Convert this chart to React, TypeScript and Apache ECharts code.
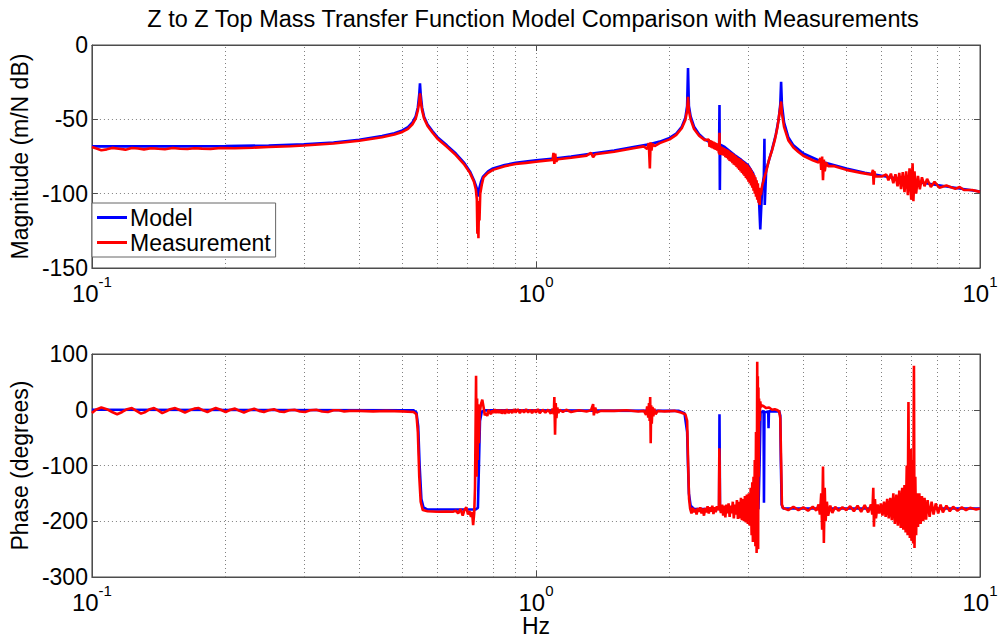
import React, { useEffect, useRef } from "react";
import * as echarts from "echarts";

const FONT = "'Liberation Sans', Arial, Helvetica, sans-serif";

const titleText = "Z to Z Top Mass Transfer Function Model Comparison with Measurements";
const legendNames = ["Model", "Measurement"];
const magTicks = { min: -150, max: 0, interval: 50 };
const phaseTicks = { min: -300, max: 100, interval: 100 };
const minorGridFreqs = [0.2, 0.3, 0.4, 0.5, 0.6, 0.7, 0.8, 0.9, 2, 3, 4, 5, 6, 7, 8, 9];

const modelMag: [number, number][] = [
  [0.1, -68.2], [0.15, -68.2], [0.2, -68], [0.25, -67.6], [0.3, -66.8], [0.35, -65.6], [0.4, -63.8],
  [0.45, -61.2], [0.48, -59.3], [0.5, -57.5], [0.515, -55.2], [0.527, -52], [0.536, -48], [0.542, -42],
  [0.546, -33], [0.548, -25.8], [0.55, -33], [0.554, -42], [0.56, -48.5], [0.57, -53.5], [0.585, -58],
  [0.6, -62], [0.63, -67.5], [0.66, -73], [0.69, -79.5], [0.71, -85], [0.725, -91], [0.735, -96],
  [0.741, -102], [0.746, -96], [0.752, -92], [0.76, -88.5], [0.78, -85], [0.8, -83], [0.85, -80.8],
  [0.9, -79.2], [1.0, -77.5], [1.1, -76.3], [1.2, -75], [1.34, -73], [1.5, -71], [1.67, -68.5],
  [1.8, -66.8], [1.9, -65], [2.0, -62.5], [2.07, -59.5], [2.13, -55], [2.17, -49], [2.19, -41],
  [2.2, -15.5], [2.21, -41], [2.23, -48], [2.27, -55], [2.33, -60], [2.4, -63.5], [2.5, -66.5],
  [2.585, -68.5], [2.59, -40.3], [2.595, -97.5], [2.6, -67], [2.66, -68.6], [2.8, -74], [2.9, -77.3],
  [3.0, -80.7], [3.08, -86], [3.14, -94], [3.18, -105], [3.2, -124], [3.23, -97], [3.26, -88],
  [3.27, -63], [3.275, -107.6], [3.3, -84], [3.4, -70.5], [3.47, -60], [3.52, -50], [3.55, -40],
  [3.565, -24.7], [3.58, -40], [3.62, -52], [3.7, -62], [3.8, -67.5], [4.0, -73], [4.4, -78.5],
  [5.0, -83], [5.5, -86], [6.0, -88], [7.0, -91.5], [8.0, -94.2], [9.0, -96.5], [10, -98.5],
];

const measMag: [number, number][] = [
  [0.1, -68.6], [0.102, -69.5], [0.105, -70.8], [0.108, -70.2], [0.111, -69.2], [0.115, -69.8],
  [0.119, -70.4], [0.123, -69.3], [0.127, -69.6], [0.131, -70.2], [0.136, -69.4], [0.141, -69.8],
  [0.146, -70.1], [0.152, -69.3], [0.158, -69.8], [0.164, -70], [0.17, -69.4], [0.177, -69.7],
  [0.185, -69.9], [0.195, -69.3], [0.21, -69.5], [0.23, -69.1], [0.25, -68.6], [0.28, -68.1],
  [0.3, -67.6], [0.35, -66.3], [0.4, -64.4], [0.45, -62], [0.48, -60.2], [0.5, -58.5], [0.515, -56.4],
  [0.527, -53.3], [0.536, -49.5], [0.542, -44], [0.546, -38], [0.548, -32.5], [0.55, -37.5],
  [0.554, -44], [0.56, -49.5], [0.57, -54.5], [0.585, -59], [0.6, -63], [0.63, -68.5], [0.66, -74],
  [0.69, -80.5], [0.71, -86], [0.725, -92], [0.732, -97], [0.736, -104], [0.738, -127], [0.74, -105],
  [0.742, -130], [0.744, -108], [0.746, -118], [0.749, -100], [0.755, -94], [0.762, -89], [0.78, -86],
  [0.8, -84], [0.85, -81.5], [0.9, -80], [0.95, -79.3], [1.0, -78.5], [1.05, -77.8], [1.09, -77.4],
  [1.095, -72.5], [1.1, -80], [1.105, -73], [1.11, -78.5], [1.12, -76.8], [1.2, -75.8], [1.3, -74.4],
  [1.33, -72.5], [1.345, -75.5], [1.36, -73.5], [1.5, -71.8], [1.67, -69.3], [1.75, -68.2], [1.78, -70],
  [1.795, -66], [1.805, -83], [1.812, -65.5], [1.82, -71], [1.83, -66.5], [1.85, -68], [1.9, -66],
  [2.0, -63.5], [2.07, -60.5], [2.13, -56], [2.17, -50.5], [2.19, -44], [2.2, -34.8], [2.21, -44],
  [2.23, -50], [2.27, -56.5], [2.33, -61], [2.4, -64], [2.45, -63.5], [2.46, -68.5], [2.47, -64],
  [2.48, -69], [2.49, -64.5], [2.5, -69.5], [2.51, -65], [2.52, -70], [2.53, -65.5], [2.54, -70.5],
  [2.55, -66], [2.56, -71], [2.57, -67], [2.58, -72], [2.585, -73], [2.59, -59], [2.595, -74],
  [2.6, -68], [2.61, -73.5], [2.62, -68.5], [2.63, -74], [2.64, -69], [2.65, -74.5], [2.66, -69.5],
  [2.67, -75.5], [2.68, -70], [2.69, -76], [2.7, -70.5], [2.71, -77], [2.72, -71], [2.73, -78],
  [2.74, -72], [2.75, -78.5], [2.76, -72.5], [2.77, -79.5], [2.78, -73], [2.79, -80.5], [2.8, -74],
  [2.81, -81], [2.82, -74.5], [2.83, -82], [2.84, -75.5], [2.85, -83], [2.86, -76], [2.87, -84],
  [2.88, -76.5], [2.89, -85], [2.9, -77], [2.91, -86], [2.92, -78], [2.93, -87], [2.94, -78.5],
  [2.95, -88], [2.96, -79.5], [2.97, -89.5], [2.98, -80], [2.99, -90.5], [3.0, -81], [3.01, -92],
  [3.02, -82], [3.03, -93], [3.04, -83], [3.05, -94.5], [3.06, -84.5], [3.07, -96], [3.08, -86],
  [3.09, -98], [3.1, -87.5], [3.11, -100], [3.12, -89], [3.13, -102], [3.14, -91], [3.15, -104],
  [3.16, -93], [3.17, -106], [3.18, -96], [3.19, -107.6], [3.2, -97], [3.21, -101], [3.23, -95],
  [3.25, -92], [3.27, -89], [3.3, -85], [3.35, -77], [3.4, -71], [3.45, -64], [3.5, -55], [3.53, -47],
  [3.565, -38], [3.58, -46], [3.62, -55], [3.7, -64], [3.8, -69], [3.9, -72], [4.0, -74.5], [4.2, -77.5],
  [4.33, -79], [4.37, -76], [4.39, -84], [4.41, -75], [4.43, -91], [4.45, -77], [4.47, -85], [4.5, -79],
  [4.55, -81.5], [4.7, -81.5], [5.0, -84], [5.4, -86], [5.7, -87.2], [5.74, -84], [5.76, -94],
  [5.78, -85], [5.82, -88.5], [6.0, -88.5], [6.15, -87], [6.22, -91], [6.3, -86.5], [6.38, -93],
  [6.45, -87], [6.52, -95], [6.58, -86], [6.64, -97], [6.7, -85.5], [6.76, -99], [6.82, -85],
  [6.88, -101], [6.94, -83], [7.0, -104], [7.05, -79.6], [7.08, -105], [7.12, -85], [7.18, -100],
  [7.25, -88], [7.32, -97], [7.4, -89], [7.5, -95], [7.6, -90], [7.75, -95.5], [7.9, -92], [8.1, -96],
  [8.4, -94.5], [8.8, -96.8], [9.0, -95.5], [9.2, -97.5], [9.6, -97.5], [10, -98.8],
];

const modelPhase: [number, number][] = [
  [0.1, 0], [0.53, -1], [0.538, -5], [0.543, -30], [0.547, -100], [0.552, -160], [0.558, -175],
  [0.57, -179], [0.73, -179], [0.74, -176], [0.744, -100], [0.748, -20], [0.755, -3], [0.77, -1],
  [2.1, -2], [2.16, -6], [2.19, -40], [2.2, -100], [2.21, -150], [2.23, -172], [2.27, -178],
  [2.585, -178], [2.59, -8], [2.597, -178], [3.17, -178], [3.19, -90], [3.205, -5], [3.255, -2],
  [3.262, -167], [3.27, -5], [3.335, -3], [3.34, -33], [3.347, -3], [3.53, -3], [3.55, -10],
  [3.56, -90], [3.575, -170], [3.6, -177], [10, -177],
];

const measPhase: [number, number][] = [
  [0.1, -6], [0.102, 0], [0.105, 4], [0.108, 1], [0.111, -4], [0.114, -8], [0.117, -4], [0.12, 1],
  [0.123, 3], [0.126, -2], [0.129, -7], [0.132, -4], [0.135, 1], [0.138, 3], [0.141, -1], [0.144, -6],
  [0.147, -3], [0.15, 1], [0.154, 3], [0.158, -1], [0.162, -5], [0.166, -1], [0.17, 2], [0.174, 3],
  [0.178, -1], [0.182, -4], [0.186, 0], [0.19, 3], [0.195, 0], [0.2, -4], [0.205, 0], [0.21, 2],
  [0.215, -2], [0.22, -5], [0.226, -1], [0.232, 2], [0.238, -2], [0.244, -4], [0.25, -1], [0.257, 1],
  [0.264, -3], [0.271, -4], [0.278, -1], [0.286, 0], [0.294, -3], [0.302, -4], [0.31, -1], [0.32, 0],
  [0.33, -3], [0.34, -4], [0.35, -1], [0.36, -1], [0.37, -3], [0.38, -2], [0.4, -2], [0.43, -3],
  [0.46, -2], [0.5, -3], [0.53, -4], [0.538, -8], [0.542, -40], [0.546, -120], [0.55, -165],
  [0.556, -180], [0.57, -182], [0.6, -183], [0.63, -182.5], [0.65, -183], [0.66, -181], [0.668, -186],
  [0.676, -178], [0.684, -190], [0.69, -180], [0.697, -175], [0.703, -188], [0.708, -182],
  [0.714, -192], [0.718, -183], [0.722, -207], [0.726, -185], [0.729, -140], [0.731, -40], [0.733, 61],
  [0.735, -120], [0.737, 20], [0.739, -90], [0.741, 10], [0.744, -60], [0.747, -5], [0.752, 10],
  [0.757, 18], [0.762, 5], [0.767, -10], [0.772, -6], [0.777, -11], [0.782, 0], [0.787, -5],
  [0.792, -8], [0.797, -1], [0.802, -6], [0.808, 1], [0.814, -6], [0.82, 0], [0.826, -6], [0.832, 0],
  [0.838, -7], [0.845, 0], [0.852, -7], [0.86, 1], [0.868, -6], [0.876, 0], [0.884, -6], [0.892, 1],
  [0.9, -5], [0.91, 1], [0.92, -6], [0.93, 0], [0.94, -5], [0.95, 1], [0.96, -5], [0.97, 0],
  [0.98, -6], [0.99, 0], [1.0, -5], [1.01, 1], [1.02, -6], [1.035, 0], [1.05, -5], [1.065, 0],
  [1.08, -7], [1.09, 2], [1.097, -8], [1.1, 23], [1.104, -45], [1.108, 12], [1.112, -15], [1.117, 4],
  [1.123, -6], [1.13, 0], [1.15, -4], [1.17, 0], [1.2, -4], [1.25, -1], [1.3, -3], [1.33, -1],
  [1.345, 10], [1.35, -10], [1.36, 4], [1.37, -5], [1.4, -2], [1.5, -2], [1.6, -1], [1.7, -3],
  [1.75, -2], [1.77, -9], [1.78, 6], [1.79, -14], [1.797, 12], [1.803, -20], [1.808, 23], [1.813, -60],
  [1.817, 8], [1.823, -25], [1.83, 5], [1.838, -12], [1.846, 2], [1.86, -8], [1.88, -2], [1.95, -3],
  [2.05, -2], [2.12, -5], [2.17, -8], [2.19, -20], [2.202, -100], [2.212, -160], [2.225, -178],
  [2.24, -186], [2.255, -176], [2.27, -184], [2.285, -178], [2.3, -188], [2.315, -176], [2.33, -183],
  [2.345, -175], [2.36, -186], [2.375, -177], [2.39, -190], [2.405, -176], [2.42, -184], [2.435, -173],
  [2.45, -186], [2.465, -175], [2.48, -183], [2.495, -172], [2.51, -187], [2.525, -175], [2.54, -184],
  [2.555, -173], [2.57, -180], [2.582, -175], [2.588, -69], [2.592, -100], [2.597, -178], [2.61, -185],
  [2.625, -170], [2.64, -190], [2.655, -172], [2.67, -193], [2.685, -170], [2.7, -186], [2.715, -168],
  [2.73, -192], [2.745, -172], [2.76, -186], [2.775, -165], [2.79, -195], [2.805, -170], [2.82, -188],
  [2.835, -162], [2.85, -196], [2.865, -165], [2.88, -195], [2.895, -158], [2.91, -198], [2.925, -160],
  [2.94, -200], [2.955, -155], [2.97, -202], [2.985, -152], [3.0, -205], [3.015, -150], [3.03, -208],
  [3.045, -140], [3.06, -225], [3.07, -130], [3.08, -237], [3.09, -120], [3.1, -230], [3.11, -90],
  [3.12, -245], [3.13, -40], [3.14, -257], [3.15, 86], [3.155, -200], [3.16, 60], [3.165, -250],
  [3.17, 40], [3.175, -120], [3.18, 20], [3.19, -20], [3.2, 15], [3.21, 5], [3.23, 8], [3.26, 6],
  [3.3, 3], [3.35, 4], [3.4, 0], [3.45, 1], [3.5, -1], [3.53, -3], [3.55, -15], [3.565, -90],
  [3.58, -170], [3.6, -176], [3.7, -180], [3.8, -174], [3.9, -180], [4.0, -175], [4.1, -181],
  [4.2, -174], [4.28, -181], [4.33, -170], [4.36, -188], [4.39, -150], [4.41, -215], [4.43, -102],
  [4.45, -239], [4.47, -140], [4.49, -200], [4.52, -165], [4.55, -190], [4.6, -172], [4.65, -185],
  [4.72, -174], [4.8, -181], [4.9, -175], [5.0, -180], [5.1, -173], [5.2, -182], [5.3, -172],
  [5.4, -183], [5.5, -171], [5.6, -184], [5.68, -170], [5.72, -188], [5.75, -140], [5.77, -210],
  [5.8, -160], [5.83, -195], [5.88, -170], [5.93, -186], [5.98, -168], [6.03, -190], [6.08, -165],
  [6.13, -192], [6.18, -160], [6.23, -195], [6.28, -158], [6.33, -198], [6.38, -150], [6.43, -205],
  [6.48, -152], [6.53, -208], [6.58, -145], [6.63, -212], [6.68, -140], [6.72, -215], [6.76, -135],
  [6.8, -220], [6.84, -100], [6.87, -225], [6.9, 14], [6.92, -150], [6.95, -230], [6.98, -70],
  [7.01, -235], [7.04, -90], [7.07, -240], [7.1, 79], [7.12, -248], [7.15, -120], [7.18, -225],
  [7.21, -150], [7.25, -210], [7.3, -150], [7.35, -205], [7.4, -155], [7.45, -200], [7.5, -158],
  [7.56, -197], [7.62, -162], [7.7, -192], [7.78, -165], [7.86, -188], [7.95, -168], [8.05, -186],
  [8.15, -170], [8.25, -184], [8.4, -172], [8.55, -182], [8.7, -174], [8.9, -181], [9.1, -175],
  [9.3, -180], [9.5, -176], [9.8, -179], [10, -177],
];

const AXIS_COLOR = "#4d4d4d";
const GRID_LINE = { type: [1, 3] as any, color: "#808080", width: 1 };
const FS = 23;

function xAxes(gridIndex: number, withName: boolean) {
  const base = {
    type: "log" as const,
    logBase: 10,
    min: 0.1,
    max: 10,
    gridIndex,
    axisLine: { show: true, onZero: false, lineStyle: { color: AXIS_COLOR } },
    axisTick: { show: true, inside: true, length: 6, lineStyle: { color: AXIS_COLOR } },
  };
  return [
    {
      ...base,
      position: "bottom",
      splitLine: { show: true, lineStyle: GRID_LINE },
      axisLabel: {
        color: "#000",
        margin: 6,
        formatter: (v: number) => `{b|10}{s|${Math.round(Math.log10(v))}}`,
        rich: {
          b: { fontSize: 24, fontFamily: FONT, color: "#000", lineHeight: 31, verticalAlign: "bottom" },
          s: { fontSize: 15, fontFamily: FONT, color: "#000", lineHeight: 31, verticalAlign: "top" },
        },
      },
      name: withName ? "Hz" : "",
      nameLocation: "middle",
      nameGap: 37,
      nameTextStyle: { fontSize: FS, fontFamily: FONT, color: "#000" },
    },
    {
      ...base,
      position: "top",
      splitLine: { show: false },
      axisLabel: { show: false },
    },
  ];
}

function yAxes(gridIndex: number, ticks: { min: number; max: number; interval: number }, name: string) {
  const base = {
    type: "value" as const,
    gridIndex,
    min: ticks.min,
    max: ticks.max,
    interval: ticks.interval,
    axisLine: { show: true, onZero: false, lineStyle: { color: AXIS_COLOR } },
    axisTick: { show: true, inside: true, length: 6, lineStyle: { color: AXIS_COLOR } },
  };
  return [
    {
      ...base,
      position: "left",
      splitLine: { show: true, lineStyle: GRID_LINE },
      axisLabel: { fontSize: FS, fontFamily: FONT, color: "#000", margin: 4 },
      name,
      nameLocation: "middle",
      nameGap: 55,
      nameTextStyle: { fontSize: FS, fontFamily: FONT, color: "#000" },
    },
    {
      ...base,
      position: "right",
      splitLine: { show: false },
      axisLabel: { show: false },
    },
  ];
}

function lineSeries(name: string, data: [number, number][], color: string, axisIdx: number, z: number) {
  return {
    name,
    type: "line",
    data,
    xAxisIndex: axisIdx,
    yAxisIndex: axisIdx,
    symbol: "none",
    showSymbol: false,
    z,
    lineStyle: { color, width: 2.6 },
    itemStyle: { color },
    silent: true,
  };
}

function gridSeries(axisIdx: number) {
  return {
    type: "line",
    data: [],
    xAxisIndex: axisIdx,
    yAxisIndex: axisIdx,
    silent: true,
    z: 1,
    markLine: {
      silent: true,
      z: 1,
      symbol: ["none", "none"],
      label: { show: false },
      lineStyle: GRID_LINE,
      emphasis: { disabled: true },
      data: minorGridFreqs.map((f) => ({ xAxis: f })),
    },
  };
}

export default function App() {
  const ref = useRef<HTMLDivElement>(null);
  useEffect(() => {
    if (!ref.current) return;
    const chart = echarts.init(ref.current, undefined, { renderer: "svg" });
    chart.setOption({
      animation: false,
      backgroundColor: "#fff",
      textStyle: { fontFamily: FONT },
      graphic: [
        {
          type: "text",
          x: 533,
          y: 7,
          style: {
            text: titleText,
            fontSize: 23.5,
            fontFamily: FONT,
            fill: "#000",
            align: "center",
            verticalAlign: "top",
          },
        },
      ],
      legend: {
        data: legendNames,
        orient: "vertical",
        left: 92,
        top: 203,
        backgroundColor: "#fff",
        borderColor: "#666",
        borderWidth: 1,
        borderRadius: 0,
        padding: [3, 5, 3, 5],
        itemGap: 2,
        itemWidth: 30,
        itemHeight: 3,
        icon: "rect",
        textStyle: { fontSize: FS, fontFamily: FONT, color: "#000", padding: [0, 0, 0, -2] },
        selectedMode: false,
      },
      grid: [
        { left: 87, top: 45, width: 893, height: 223, show: true, borderColor: AXIS_COLOR, borderWidth: 1, backgroundColor: "#fff" },
        { left: 87, top: 354, width: 893, height: 223, show: true, borderColor: AXIS_COLOR, borderWidth: 1, backgroundColor: "#fff" },
      ],
      xAxis: [...xAxes(0, false), ...xAxes(1, true)],
      yAxis: [...yAxes(0, magTicks, "Magnitude (m/N dB)"), ...yAxes(1, phaseTicks, "Phase (degrees)")],
      series: [
        gridSeries(0),
        gridSeries(2),
        lineSeries(legendNames[0], modelMag, "#0000ff", 0, 3),
        lineSeries(legendNames[1], measMag, "#ff0000", 0, 4),
        lineSeries(legendNames[0], modelPhase, "#0000ff", 2, 3),
        lineSeries(legendNames[1], measPhase, "#ff0000", 2, 4),
      ],
    });
    return () => chart.dispose();
  }, []);
  return (
    <div
      ref={ref}
      style={{ position: "fixed", left: 0, top: 0, width: 1001, height: 640, background: "#fff" }}
    />
  );
}
